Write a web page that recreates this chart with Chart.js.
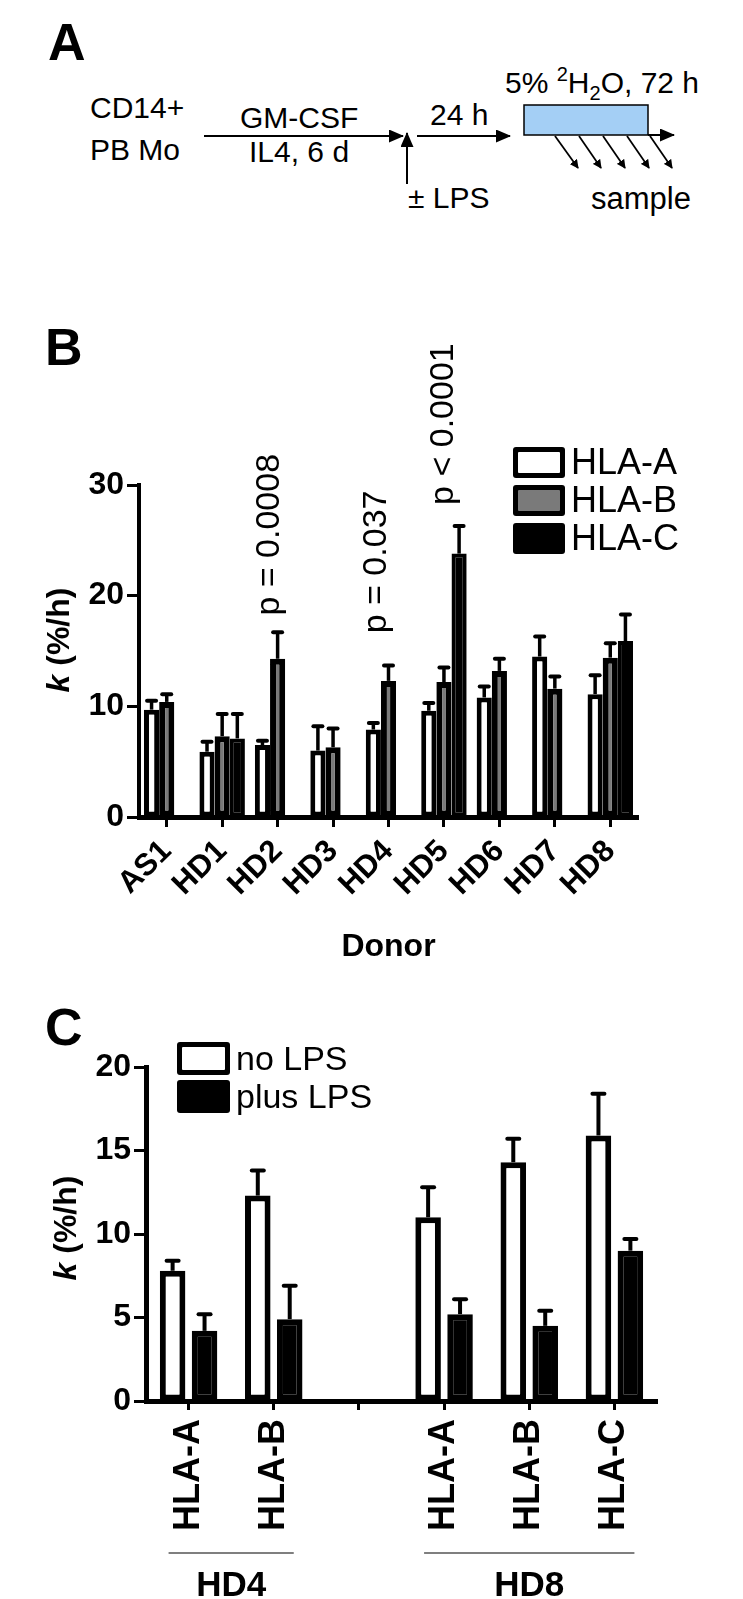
<!DOCTYPE html>
<html>
<head>
<meta charset="utf-8">
<script src="https://cdn.jsdelivr.net/npm/chart.js@4.4.1/dist/chart.umd.min.js"></script>
<style>
  body { margin: 0; background: #fff; }
  #page { position: relative; width: 743px; height: 1599px; overflow: hidden; background: #fff; }
  #scheme { position: absolute; left: 0; top: 0; }
  #chartB { position: absolute; left: 0; top: 300px; }
  #chartC { position: absolute; left: 0; top: 1000px; }
</style>
</head>
<body>
<div id="page">
  <svg id="scheme" width="743" height="1599" font-family="Liberation Sans, Arial, sans-serif">
    <defs>
      <marker id="head" markerWidth="9" markerHeight="9" refX="8" refY="4.5" orient="auto" markerUnits="userSpaceOnUse">
        <path d="M0,0 L9,4.5 L0,9 z" fill="#000"/>
      </marker>
      <marker id="bighead" markerWidth="15" markerHeight="13" refX="14" refY="6.5" orient="auto" markerUnits="userSpaceOnUse">
        <path d="M0,0 L15,6.5 L0,13 z" fill="#000"/>
      </marker>
    </defs>
    <!-- panel letters -->
    <text x="48" y="60" font-size="52" font-weight="bold">A</text>
    <text x="45" y="365" font-size="52" font-weight="bold">B</text>
    <text x="45" y="1045" font-size="52" font-weight="bold">C</text>

    <!-- panel A scheme -->
    <text x="90" y="118" font-size="30">CD14+</text>
    <text x="90" y="160" font-size="30">PB Mo</text>
    <text x="240" y="128" font-size="30">GM-CSF</text>
    <text x="249" y="162" font-size="30">IL4, 6 d</text>
    <line x1="204" y1="136" x2="403" y2="136" stroke="#000" stroke-width="2" marker-end="url(#bighead)"/>
    <line x1="407" y1="184" x2="407" y2="133" stroke="#000" stroke-width="2" marker-end="url(#bighead)"/>
    <text x="408" y="208" font-size="30">± LPS</text>
    <text x="430" y="125" font-size="30">24 h</text>
    <line x1="417" y1="136" x2="510" y2="136" stroke="#000" stroke-width="2" marker-end="url(#bighead)"/>
    <text x="505" y="93" font-size="30">5% <tspan font-size="20" dy="-12">2</tspan><tspan dy="12">H</tspan><tspan font-size="20" dy="7">2</tspan><tspan dy="-7">O, 72 h</tspan></text>
    <rect x="524" y="105" width="124" height="30" fill="#a4cff5" stroke="#000" stroke-width="1.5"/>
    <line x1="648" y1="135" x2="674" y2="135" stroke="#000" stroke-width="2" marker-end="url(#bighead)"/>
    <line x1="555" y1="136" x2="578" y2="168" stroke="#000" stroke-width="1.8" marker-end="url(#head)"/>
    <line x1="579" y1="136" x2="601" y2="168" stroke="#000" stroke-width="1.8" marker-end="url(#head)"/>
    <line x1="603" y1="136" x2="625" y2="168" stroke="#000" stroke-width="1.8" marker-end="url(#head)"/>
    <line x1="627" y1="136" x2="649" y2="168" stroke="#000" stroke-width="1.8" marker-end="url(#head)"/>
    <line x1="650" y1="136" x2="672" y2="168" stroke="#000" stroke-width="1.8" marker-end="url(#head)"/>
    <text x="591" y="209" font-size="31">sample</text>
  </svg>
  <canvas id="chartB" width="743" height="700"></canvas>
  <canvas id="chartC" width="743" height="599"></canvas>
</div>
<script>
// ---- panel B data: turnover rate k (%/h) per donor ----
const donors = ['AS1', 'HD1', 'HD2', 'HD3', 'HD4', 'HD5', 'HD6', 'HD7', 'HD8'];
const hlaA = [9.7, 5.9, 6.5, 6.0, 7.9, 9.6, 10.8, 14.5, 11.1];
const hlaAErr = [0.8, 0.9, 0.4, 2.2, 0.6, 0.7, 1.0, 1.8, 1.7];
const hlaB = [10.4, 7.3, 14.3, 6.3, 12.3, 12.2, 13.2, 11.6, 14.4];
const hlaBErr = [0.7, 2.0, 2.4, 1.7, 1.4, 1.3, 1.1, 1.1, 1.3];
const hlaC = [null, 7.1, null, null, null, 23.8, null, null, 15.9];
const hlaCErr = [null, 2.2, null, null, null, 2.5, null, null, 2.4];

// p-value notes: text, donor index, value where the text starts
const pTexts = ['p = 0.0008', 'p = 0.037', 'p < 0.0001'];
const pDonor = [2, 4, 5];
const pStart = [18.2, 16.6, 28.2];

// ---- panel C data: no LPS vs plus LPS ----
const lpsLabels = ['HLA-A', 'HLA-B', '', 'HLA-A', 'HLA-B', 'HLA-C'];
const noLps = [7.8, 12.3, null, 11.0, 14.3, 15.9];
const noLpsErr = [0.6, 1.5, null, 1.8, 1.4, 2.5];
const plusLps = [4.2, 4.9, null, 5.2, 4.5, 9.0];
const plusLpsErr = [1.0, 2.0, null, 0.9, 0.9, 0.7];
const lpsGroups = ['HD4', 'HD8'];
const lpsGroupFrom = [0, 3];
const lpsGroupTo = [1, 5];

Chart.defaults.font.family = '"Liberation Sans", Arial, sans-serif';
Chart.defaults.color = '#000';

// error bars (upper half only, like the original)
const errorBars = {
  id: 'errorBars',
  afterDatasetsDraw(chart, args, opts) {
    const ctx = chart.ctx;
    const y = chart.scales.y;
    chart.data.datasets.forEach((ds, i) => {
      const meta = chart.getDatasetMeta(i);
      meta.data.forEach((bar, j) => {
        const v = ds.data[j], e = ds.errors[j];
        if (v == null || e == null) return;
        const top = y.getPixelForValue(v + e);
        ctx.save();
        ctx.strokeStyle = '#000';
        ctx.lineWidth = opts.lineWidth;
        ctx.beginPath();
        ctx.moveTo(bar.x, bar.y);
        ctx.lineTo(bar.x, top);
        ctx.stroke();
        ctx.lineWidth = opts.capThickness;
        ctx.lineCap = 'round';
        ctx.beginPath();
        ctx.moveTo(bar.x - opts.capWidth / 2, top);
        ctx.lineTo(bar.x + opts.capWidth / 2, top);
        ctx.stroke();
        ctx.restore();
      });
    });
  }
};

function drawYTitle(ctx, x, y, size) {
  ctx.save();
  ctx.translate(x, y);
  ctx.rotate(-Math.PI / 2);
  ctx.fillStyle = '#000';
  ctx.textBaseline = 'alphabetic';
  ctx.textAlign = 'left';
  const f1 = 'italic bold ' + size + 'px "Liberation Sans", Arial';
  const f2 = 'bold ' + size + 'px "Liberation Sans", Arial';
  ctx.font = f1;
  const w1 = ctx.measureText('k').width;
  ctx.font = f2;
  const w2 = ctx.measureText(' (%/h)').width;
  const x0 = -(w1 + w2) / 2;
  ctx.font = f1;
  ctx.fillText('k', x0, 0);
  ctx.font = f2;
  ctx.fillText(' (%/h)', x0 + w1, 0);
  ctx.restore();
}

function drawLegend(ctx, chart, o) {
  chart.data.datasets.forEach((ds, i) => {
    const y = o.y + i * o.step;
    ctx.save();
    ctx.beginPath();
    ctx.roundRect(o.x, y, o.w, o.h, 3);
    ctx.fillStyle = '#000';
    ctx.fill();
    ctx.beginPath();
    ctx.roundRect(o.x + o.border, y + o.border, o.w - 2 * o.border, o.h - 2 * o.border, 1);
    ctx.fillStyle = ds.backgroundColor;
    ctx.fill();
    ctx.fillStyle = '#000';
    ctx.font = o.font + 'px "Liberation Sans", Arial';
    ctx.textBaseline = 'middle';
    ctx.fillText(ds.label, o.x + o.w + 6, y + o.h / 2 + 2);
    ctx.restore();
  });
}

const notesB = {
  id: 'notesB',
  afterDraw(chart) {
    const ctx = chart.ctx;
    const x = chart.scales.x, y = chart.scales.y;
    const metaB = chart.getDatasetMeta(1);
    const dx = [1, -3, 9];
    pTexts.forEach((t, i) => {
      const bar = metaB.data[pDonor[i]];
      ctx.save();
      ctx.translate(bar.x + dx[i], y.getPixelForValue(pStart[i]));
      ctx.rotate(-Math.PI / 2);
      ctx.font = '34px "Liberation Sans", Arial';
      ctx.fillStyle = '#000';
      ctx.textAlign = 'left';
      ctx.textBaseline = 'alphabetic';
      ctx.fillText(t, 0, 0);
      ctx.restore();
    });
    drawLegend(ctx, chart, { x: 513, y: 147, w: 52, h: 31, step: 38, border: 5, font: 36 });
    drawYTitle(ctx, 69, 340, 32);
    ctx.save();
    ctx.font = 'bold 32px "Liberation Sans", Arial';
    ctx.textAlign = 'center';
    ctx.textBaseline = 'alphabetic';
    ctx.fillStyle = '#000';
    ctx.fillText('Donor', (x.left + x.right) / 2, 656);
    ctx.restore();
  }
};

const notesC = {
  id: 'notesC',
  afterDraw(chart) {
    const ctx = chart.ctx;
    const x = chart.scales.x;
    drawLegend(ctx, chart, { x: 177, y: 42, w: 53, h: 33, step: 38, border: 5, font: 34 });
    drawYTitle(ctx, 76, 228, 32);
    lpsGroups.forEach((g, i) => {
      const a = x.getPixelForValue(lpsGroupFrom[i]) - 20;
      const b = x.getPixelForValue(lpsGroupTo[i]) + 20;
      ctx.save();
      ctx.strokeStyle = '#555';
      ctx.lineWidth = 1.5;
      ctx.beginPath();
      ctx.moveTo(a, 553);
      ctx.lineTo(b, 553);
      ctx.stroke();
      ctx.font = 'bold 35px "Liberation Sans", Arial';
      ctx.fillStyle = '#000';
      ctx.textAlign = 'center';
      ctx.textBaseline = 'alphabetic';
      ctx.fillText(g, (a + b) / 2, 596);
      ctx.restore();
    });
  }
};

function axisStyle(tickLength, borderWidth) {
  return {
    grid: { display: true, drawOnChartArea: false, drawTicks: true, offset: false,
            tickLength: tickLength, tickWidth: 3, tickColor: '#000' },
    border: { display: true, color: '#000', width: borderWidth }
  };
}

new Chart(document.getElementById('chartB'), {
  type: 'bar',
  data: {
    labels: donors,
    datasets: [
      { label: 'HLA-A', data: hlaA, errors: hlaAErr, backgroundColor: '#ffffff', borderWidth: 5 },
      { label: 'HLA-B', data: hlaB, errors: hlaBErr, backgroundColor: '#7a7a7a', borderWidth: 6 },
      { label: 'HLA-C', data: hlaC, errors: hlaCErr, backgroundColor: '#000000', borderWidth: 4 }
    ].map(d => Object.assign(d, { borderColor: '#000', borderSkipped: false,
                                  categoryPercentage: 0.82, barPercentage: 1.0 }))
  },
  options: {
    responsive: false,
    animation: false,
    devicePixelRatio: 1,
    layout: { autoPadding: false, padding: { left: 0, right: 105, top: 185, bottom: 0 } },
    plugins: {
      legend: { display: false },
      tooltip: { enabled: false },
      errorBars: { lineWidth: 3.5, capWidth: 9, capThickness: 4 }
    },
    scales: {
      x: Object.assign(axisStyle(10, 5), {
        ticks: { font: { size: 31, weight: 'bold' }, minRotation: 45, maxRotation: 45, padding: 6, autoSkip: false },
        afterFit: s => { s.height = 183; }
      }),
      y: Object.assign(axisStyle(12, 4), {
        min: 0, max: 30,
        ticks: { stepSize: 10, font: { size: 32, weight: 'bold' }, padding: 3 },
        afterFit: s => { s.width = 139; }
      })
    }
  },
  plugins: [errorBars, notesB]
});

new Chart(document.getElementById('chartC'), {
  type: 'bar',
  data: {
    labels: lpsLabels,
    datasets: [
      { label: 'no LPS', data: noLps, errors: noLpsErr, backgroundColor: '#ffffff' },
      { label: 'plus LPS', data: plusLps, errors: plusLpsErr, backgroundColor: '#000000' }
    ].map(d => Object.assign(d, { borderColor: '#000', borderWidth: 6, borderSkipped: false,
                                  categoryPercentage: 0.75, barPercentage: 0.8 }))
  },
  options: {
    responsive: false,
    animation: false,
    devicePixelRatio: 1,
    layout: { autoPadding: false, padding: { left: 0, right: 86, top: 67, bottom: 0 } },
    plugins: {
      legend: { display: false },
      tooltip: { enabled: false },
      errorBars: { lineWidth: 4, capWidth: 12, capThickness: 4 }
    },
    scales: {
      x: Object.assign(axisStyle(9, 5), {
        ticks: { font: { size: 36, weight: 'bold' }, minRotation: 90, maxRotation: 90, padding: 9, autoSkip: false },
        afterFit: s => { s.height = 198; }
      }),
      y: Object.assign(axisStyle(12, 5), {
        min: 0, max: 20,
        ticks: { stepSize: 5, font: { size: 32, weight: 'bold' }, padding: 3 },
        afterFit: s => { s.width = 146; }
      })
    }
  },
  plugins: [errorBars, notesC]
});
</script>
</body>
</html>
